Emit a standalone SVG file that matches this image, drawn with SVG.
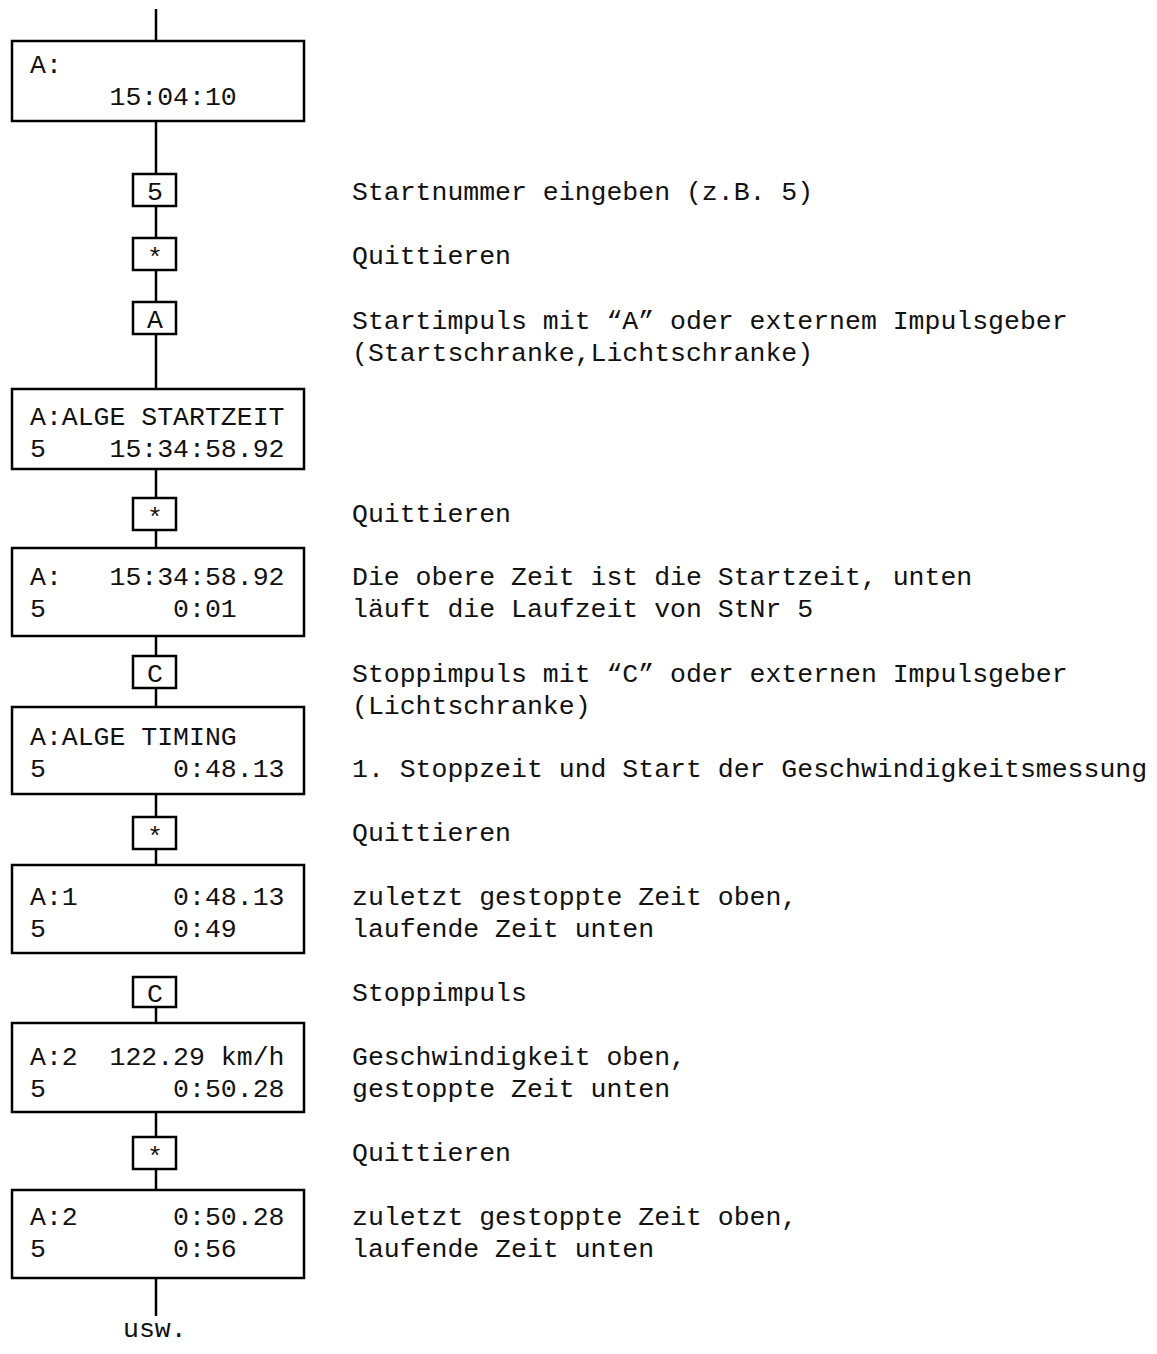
<svg xmlns="http://www.w3.org/2000/svg" width="1157" height="1354" viewBox="0 0 1157 1354">
<style>
text{font-family:"Liberation Mono","Courier New",monospace;font-size:26.5px;fill:#111;white-space:pre}
.box{fill:#fff;stroke:#000;stroke-width:2.5}
.key{fill:#fff;stroke:#000;stroke-width:2.5}
.k{text-anchor:middle}
.con line{stroke:#000;stroke-width:2.5}
</style>
<rect width="1157" height="1354" fill="#fff"/>
<g class="con" id="connectors">
<line x1="156" y1="9" x2="156" y2="41"/>
<line x1="156" y1="121" x2="156" y2="174"/>
<line x1="156" y1="206" x2="156" y2="238"/>
<line x1="156" y1="270" x2="156" y2="302"/>
<line x1="156" y1="334" x2="156" y2="389"/>
<line x1="156" y1="469" x2="156" y2="498"/>
<line x1="156" y1="530" x2="156" y2="548"/>
<line x1="156" y1="636" x2="156" y2="656"/>
<line x1="156" y1="688" x2="156" y2="707"/>
<line x1="156" y1="794" x2="156" y2="817"/>
<line x1="156" y1="849" x2="156" y2="865"/>
<line x1="156" y1="1007" x2="156" y2="1023"/>
<line x1="156" y1="1112" x2="156" y2="1137"/>
<line x1="156" y1="1169" x2="156" y2="1190"/>
<line x1="156" y1="1278" x2="156" y2="1316"/>
</g>
<g id="d1"><rect class="box" x="12" y="41" width="292" height="80"/><text x="30" y="73">A:</text><text x="30" y="105">     15:04:10</text></g>
<g id="k1"><rect class="key" x="133" y="174" width="43" height="32"/><text class="k" x="155" y="200">5</text></g>
<g id="k2"><rect class="key" x="133" y="238" width="43" height="32"/><text class="k" x="155" y="266">*</text></g>
<g id="k3"><rect class="key" x="133" y="302" width="43" height="32"/><text class="k" x="155" y="328">A</text></g>
<g id="d2"><rect class="box" x="12" y="389" width="292" height="80"/><text x="30" y="425">A:ALGE STARTZEIT</text><text x="30" y="457">5    15:34:58.92</text></g>
<g id="k4"><rect class="key" x="133" y="498" width="43" height="32"/><text class="k" x="155" y="526">*</text></g>
<g id="d3"><rect class="box" x="12" y="548" width="292" height="88"/><text x="30" y="585">A:   15:34:58.92</text><text x="30" y="617">5        0:01</text></g>
<g id="k5"><rect class="key" x="133" y="656" width="43" height="32"/><text class="k" x="155" y="682">C</text></g>
<g id="d4"><rect class="box" x="12" y="707" width="292" height="87"/><text x="30" y="745">A:ALGE TIMING</text><text x="30" y="777">5        0:48.13</text></g>
<g id="k6"><rect class="key" x="133" y="817" width="43" height="32"/><text class="k" x="155" y="845">*</text></g>
<g id="d5"><rect class="box" x="12" y="865" width="292" height="88"/><text x="30" y="905">A:1      0:48.13</text><text x="30" y="937">5        0:49</text></g>
<g id="k7"><rect class="key" x="133" y="977" width="43" height="30"/><text class="k" x="155" y="1002">C</text></g>
<g id="d6"><rect class="box" x="12" y="1023" width="292" height="89"/><text x="30" y="1065">A:2  122.29 km/h</text><text x="30" y="1097">5        0:50.28</text></g>
<g id="k8"><rect class="key" x="133" y="1137" width="43" height="32"/><text class="k" x="155" y="1165">*</text></g>
<g id="d7"><rect class="box" x="12" y="1190" width="292" height="88"/><text x="30" y="1225">A:2      0:50.28</text><text x="30" y="1257">5        0:56</text></g>
<g id="end"><text x="123" y="1337">usw.</text></g>
<g id="notes">
<text x="352" y="200">Startnummer eingeben (z.B. 5)</text>
<text x="352" y="264">Quittieren</text>
<text x="352" y="329">Startimpuls mit “A” oder externem Impulsgeber</text>
<text x="352" y="361">(Startschranke,Lichtschranke)</text>
<text x="352" y="522">Quittieren</text>
<text x="352" y="585">Die obere Zeit ist die Startzeit, unten</text>
<text x="352" y="617">läuft die Laufzeit von StNr 5</text>
<text x="352" y="682">Stoppimpuls mit “C” oder externen Impulsgeber</text>
<text x="352" y="714">(Lichtschranke)</text>
<text x="352" y="777">1. Stoppzeit und Start der Geschwindigkeitsmessung</text>
<text x="352" y="841">Quittieren</text>
<text x="352" y="905">zuletzt gestoppte Zeit oben,</text>
<text x="352" y="937">laufende Zeit unten</text>
<text x="352" y="1001">Stoppimpuls</text>
<text x="352" y="1065">Geschwindigkeit oben,</text>
<text x="352" y="1097">gestoppte Zeit unten</text>
<text x="352" y="1161">Quittieren</text>
<text x="352" y="1225">zuletzt gestoppte Zeit oben,</text>
<text x="352" y="1257">laufende Zeit unten</text>
</g>
</svg>
